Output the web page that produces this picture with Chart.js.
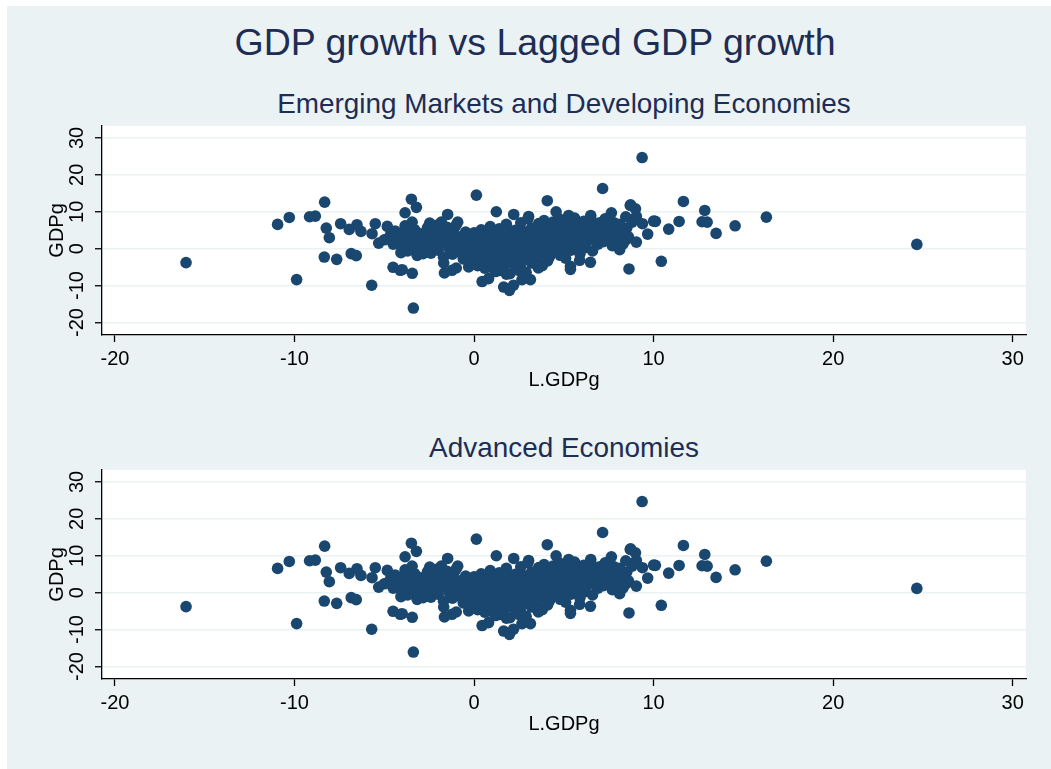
<!DOCTYPE html>
<html><head><meta charset="utf-8">
<script src="https://cdn.jsdelivr.net/npm/chart.js@4.4.1/dist/chart.umd.min.js"></script>
<style>
html,body{margin:0;padding:0;background:#fff;width:1051px;height:769px;overflow:hidden;font-family:"Liberation Sans",Arial,sans-serif;}
#bg{position:absolute;left:7px;top:6px;width:1044px;height:763px;background:#eaf2f3;}
.t{position:absolute;white-space:nowrap;line-height:1;color:#1e2d53;transform:translateX(-50%);}
#title{font-size:37.5px;top:24.3px;left:535px;}
.sub{font-size:27.9px;left:564px;}
canvas{position:absolute;left:0;}
</style></head>
<body>
<div id="bg"></div>
<div class="t" id="title">GDP growth vs Lagged GDP growth</div>
<div class="t sub" style="top:90.4px">Emerging Markets and Developing Economies</div>
<div class="t sub" style="top:434.4px">Advanced Economies</div>
<canvas id="c1" width="1051" height="275" style="top:120px"></canvas>
<canvas id="c2" width="1051" height="275" style="top:464px"></canvas>
<script>
const xTickValues = [-20, -10, 0, 10, 20, 30];
const yTickValues = [-20, -10, 0, 10, 20, 30];
const panelTitles = ['Emerging Markets and Developing Economies', 'Advanced Economies'];

const obsLeft = [
  [-16.04,-3.78],[-10.94,6.57],[-10.29,8.46],[-9.88,-8.38],[-9.16,8.65],[-8.84,8.81],[-8.32,12.6],
  [-8.23,5.57],[-8.06,2.97],[-8.34,-2.27],[-7.65,-2.89],[-7.43,6.76],[-6.95,5.22],[-6.52,6.49],
  [-6.30,4.68],[-6.84,-1.35],[-6.56,-1.89],[-5.70,-9.92],[-5.68,4.05],[-5.50,6.76],[-5.31,1.51],
  [-4.83,6.03],[-4.66,3.59],[-4.51,-5.05],[-4.11,-5.86],[-4.07,-1.08],[-3.84,9.73],[-3.84,6.2],
  [-3.49,13.4],[-3.45,7.19],[-3.44,-6.68],[-3.38,-16.1],[-3.21,11.2],[-3.17,-1.81],[-2.84,-1.35],
  [-2.56,5.84],[-2.47,6.92],[-2.16,5.84],[-1.82,7.19],[-1.69,-3.89],[-1.65,-6.59],[-1.47,9.27],
  [-1.23,-5.86],[-0.99,-5.24],[-0.91,7.19],[-0.47,4.49],[0.13,14.5],[-0.43,-2.5],[-0.30,-4.97],
  [0.45,-8.92],[0.81,-8.11],[1.24,10.0],[1.65,-10.4],[1.98,-11.0],[2.21,9.27],[3.04,8.73],
  [2.58,-4.97],[3.14,-8.38],[2.67,-8.38],[1.8,-6.9],[1.43,-5.9],[0.93,-5.0],[-4.0,-5.7],[-3.1,-1.4],
  [-5.0,2.4],[-4.5,1.2],[-4.4,4.8]
];
const obsCore = [
  [-4.2,3.1],[-4.0,0.8],[-3.9,4.6],[-3.8,2.2],[-3.7,-0.6],[-3.6,3.8],[-3.5,1.4],[-3.3,5.1],[-3.2,2.7],
  [-3.1,-0.2],[-3.0,4.0],[-2.9,1.8],[-2.8,3.4],[-2.7,0.6],[-2.6,5.6],[-2.5,2.3],[-2.4,-1.2],[-2.3,4.1],
  [-2.2,1.0],[-2.1,6.3],[-2.0,2.9],[-2.0,-0.4],[-1.9,4.7],[-1.8,1.5],[-1.7,-2.3],[-1.6,3.2],[-1.5,5.8],
  [-1.4,0.3],[-1.3,2.5],[-1.2,-1.5],[-1.1,4.2],[-1.0,1.1],[-1.0,6.4],[-0.9,-0.8],[-0.8,2.9],[-0.7,0.2],
  [-0.6,-2.8],[-0.5,3.6],[-0.4,1.4],[-0.3,-1.1],[-0.2,2.2],[-0.1,-3.4],[0.0,0.6],[0.0,4.3],
  [0.1,-1.9],[0.2,2.8],[0.2,-4.6],[0.3,0.9],[0.4,5.1],[0.4,-2.7],[0.5,1.8],[0.5,-0.6],[0.6,3.7],
  [0.6,-5.3],[0.7,-1.6],[0.8,0.2],[0.8,2.6],[0.9,-3.5],[0.9,6.0],[1.0,-0.9],[1.0,4.4],[1.0,1.3],
  [1.1,-2.4],[1.1,3.1],[1.2,-6.2],[1.2,0.5],[1.3,2.0],[1.3,-4.1],[1.4,5.4],[1.4,-0.3],[1.5,1.2],
  [1.5,-2.9],[1.6,3.8],[1.6,-5.6],[1.7,0.0],[1.7,2.5],[1.8,-1.7],[1.8,6.6],[1.9,1.0],[1.9,-3.8],
  [2.0,4.0],[2.0,-0.8],[2.0,-6.8],[2.1,2.1],[2.2,-2.2],[2.2,0.6],[2.3,5.0],[2.3,-4.5],[2.4,1.6],
  [2.4,3.4],[2.5,-1.1],[2.5,-5.9],[2.6,0.3],[2.6,7.0],[2.7,2.7],[2.7,-3.1],[2.8,4.6],[2.8,-0.5],
  [2.9,1.5],[2.9,-6.4],[3.0,3.2],[3.0,-2.0],[3.0,8.1],[3.1,0.9],[3.2,5.6],[3.2,-3.9],[3.3,2.2],
  [3.3,-0.9],[3.4,4.0],[3.5,1.1],[3.5,-2.6],[3.6,6.8],[3.6,3.0],[3.7,-0.1],[3.8,5.0],[3.8,-4.6],
  [3.9,2.3],[3.9,7.6],[4.0,-1.4],[4.0,3.9],[4.0,0.9],[4.1,5.9],[4.2,2.0],[4.2,-2.2],[4.3,4.1],
  [4.4,0.5],[4.4,7.2],[4.5,2.9],[4.5,-0.9],[4.6,5.3],[4.7,1.5],[4.7,8.2],[4.8,3.7],[4.8,-1.8],
  [4.9,6.1],[5.0,2.4],[5.0,0.2],[5.0,4.6],[5.1,-2.6],[5.2,3.3],[5.2,7.0],[5.3,1.0],[5.4,5.4],
  [5.4,-0.4],[5.5,2.6],[5.6,4.3],[5.6,8.3],[5.7,0.8],[5.8,6.2],[5.8,3.0],[5.9,-1.4],[6.0,4.9],
  [6.0,1.9],[6.1,7.4],[6.2,3.6],[6.2,0.3],[6.3,5.6],[6.4,2.4],[6.5,8.2],[6.5,4.2],[6.6,-0.6],
  [6.7,6.4],[6.8,2.9],[6.8,4.9],[6.9,1.2],[7.0,7.0],[7.0,3.7],[7.1,5.4],[7.2,1.9],[7.3,8.1],
  [7.3,3.9],[7.4,6.1],[7.5,2.7],[7.6,4.7],[7.7,0.8],[7.8,7.0],[7.8,3.4],[7.9,5.6],[8.0,2.2],
  [8.1,6.6],[8.2,4.2],[8.3,1.3],[8.5,5.5],[8.6,3.2],[8.8,7.2]
];
const obsRight = [
  [9.36,24.7],[7.16,16.3],[4.08,13.0],[4.57,10.0],[5.27,9.0],[6.50,9.0],[7.65,9.7],[8.72,11.9],
  [8.99,10.8],[8.45,8.65],[9.04,8.73],[9.38,6.76],[10.0,7.46],[10.1,7.4],[9.67,3.95],[10.84,5.3],
  [11.42,7.38],[11.66,12.8],[12.85,10.35],[12.70,7.3],[12.98,7.19],[13.48,4.14],[14.54,6.2],
  [16.28,8.54],[24.66,1.16],[10.43,-3.43],[8.63,-5.5],[8.11,-0.27],[8.47,2.43],[9.04,1.78],
  [6.48,-3.7],[5.88,-3.16],[5.37,-4.78],[5.37,-5.6],[3.58,-5.24],[2.2,-9.9],[1.97,-11.3],
  [4.1,-3.3],[2.5,-4.8],[8.7,11.7]
];
const emdeObs = obsLeft.concat(obsCore, obsRight);
const aeObs = obsLeft.concat(obsCore, obsRight);

const X_MIN = -20.72, X_MAX = 30.74, Y_MIN = -23.4, Y_MAX = 33.3;
const MARKER = '#1a476f';
const FAMILY = '"Liberation Sans", Arial, sans-serif';

const plotBg = {
  id: 'plotBg',
  beforeDraw(chart) {
    const {ctx, chartArea: a} = chart;
    ctx.save();
    ctx.fillStyle = '#ffffff';
    ctx.fillRect(a.left, a.top, a.right - a.left, a.bottom - a.top);
    ctx.restore();
  }
};

function makeChart(id, obs) {
  return new Chart(document.getElementById(id), {
    type: 'scatter',
    plugins: [plotBg],
    data: { datasets: [{ data: obs.map(p => ({x: p[0], y: p[1]})), backgroundColor: MARKER,
      borderColor: MARKER, borderWidth: 0, pointRadius: 5.8 }] },
    options: {
      responsive: false, animation: false, devicePixelRatio: 1, events: [],
      layout: { padding: { top: 5, left: 42, right: 25, bottom: 0 } },
      plugins: { legend: {display: false}, tooltip: {enabled: false}, title: {display: false} },
      scales: {
        x: {
          type: 'linear', position: 'bottom', min: X_MIN, max: X_MAX,
          afterBuildTicks: s => { s.ticks = xTickValues.map(v => ({value: v})); },
          afterFit: s => { s.height = 60; s.paddingLeft = 0; s.paddingRight = 0; },
          grid: { drawOnChartArea: false, drawTicks: true, tickLength: 7, tickColor: '#000', tickWidth: 1.3 },
          border: { display: true, color: '#000', width: 1.3 },
          ticks: { color: '#000', font: {family: FAMILY, size: 20}, padding: 5, maxRotation: 0, autoSkip: false },
          title: { display: true, text: 'L.GDPg', color: '#000', font: {family: FAMILY, size: 20}, padding: {top: 0, bottom: 3} }
        },
        y: {
          type: 'linear', position: 'left', min: Y_MIN, max: Y_MAX,
          afterBuildTicks: s => { s.ticks = yTickValues.map(v => ({value: v})); },
          afterFit: s => { s.width = 60; s.paddingTop = 0; s.paddingBottom = 0; },
          grid: { color: '#eaf2f3', lineWidth: 1.5, drawTicks: true, tickLength: 7, tickColor: '#000', tickWidth: 1.3 },
          border: { display: true, color: '#000', width: 1.3 },
          ticks: { color: '#000', font: {family: FAMILY, size: 20}, padding: 3, minRotation: 90, maxRotation: 90, crossAlign: 'center', autoSkip: false },
          title: { display: true, text: 'GDPg', color: '#000', font: {family: FAMILY, size: 20}, padding: {top: 3, bottom: 0} }
        }
      }
    }
  });
}
makeChart('c1', emdeObs);
makeChart('c2', aeObs);
</script>
</body></html>
